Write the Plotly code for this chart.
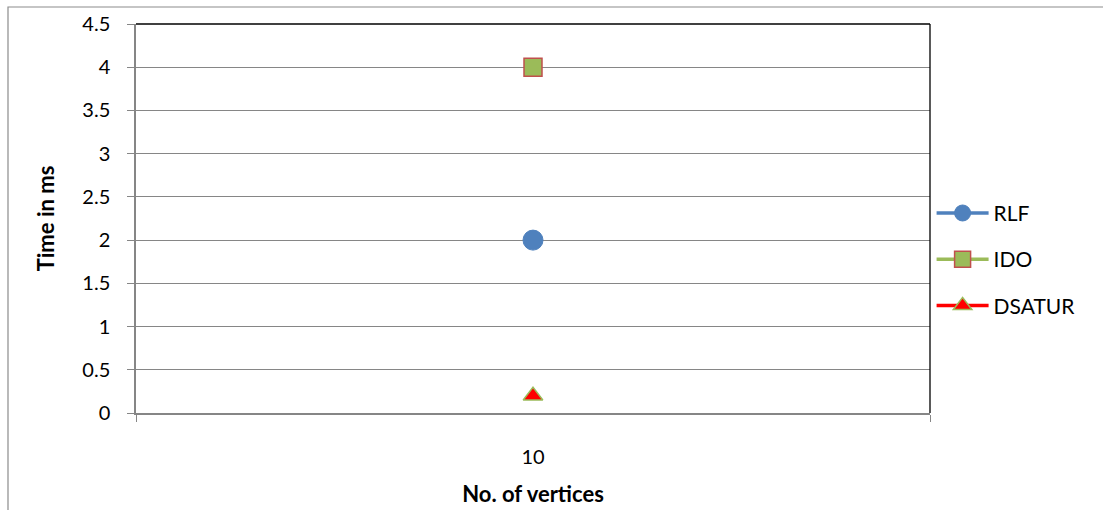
import plotly.graph_objects as go

# Timing results (ms) for graph colouring heuristics
vertices = ["10"]
rlf_ms = [2]
ido_ms = [4]
dsatur_ms = [0.2]

y_ticks = [0, 0.5, 1, 1.5, 2, 2.5, 3, 3.5, 4, 4.5]
y_tick_text = ["0", "0.5", "1", "1.5", "2", "2.5", "3", "3.5", "4", "4.5"]

FONT = "Lato"
TICK_FS = 20
LEG_FS = 21
TITLE_FS = 22

fig = go.Figure()

fig.add_trace(go.Scatter(
    x=vertices, y=rlf_ms, name="RLF", mode="lines+markers",
    line=dict(color="#4F81BD", width=3.5),
    marker=dict(symbol="circle", size=20, color="#4F81BD",
                line=dict(color="#4F81BD", width=1)),
    legendgroup="a",
))
fig.add_trace(go.Scatter(
    x=vertices, y=ido_ms, name="IDO", mode="lines+markers",
    line=dict(color="#9BBB59", width=3.5),
    marker=dict(symbol="square", size=18, color="#9BBB59",
                line=dict(color="#C0504D", width=1.5)),
    legendgroup="b",
))
fig.add_trace(go.Scatter(
    x=vertices, y=dsatur_ms, name="DSATUR", mode="lines+markers",
    line=dict(color="#FF0000", width=3.5),
    marker=dict(symbol="triangle-up", size=17, color="#FF0000",
                line=dict(color="#9BBB59", width=1.5)),
    legendgroup="c",
))

fig.update_layout(
    width=1103, height=510,
    margin=dict(l=136, r=173, t=24, b=97, autoexpand=False),
    paper_bgcolor="white", plot_bgcolor="white",
    font=dict(family=FONT, size=TICK_FS, color="black"),
    showlegend=True,
    legend=dict(
        x=1.002, xanchor="left", y=0.395, yanchor="middle",
        font=dict(family=FONT, size=LEG_FS, color="black"),
        tracegroupgap=16, itemwidth=52,
        bgcolor="rgba(0,0,0,0)",
    ),
    xaxis=dict(
        type="category", range=[-0.5, 0.5], automargin=False,
        tickson="boundaries", ticks="outside", ticklen=7,
        tickcolor="#868686", tickwidth=1,
        showline=True, linecolor="#868686", linewidth=1.5,
        showgrid=False, zeroline=False,
        ticklabelstandoff=25,
        tickfont=dict(family=FONT, size=TICK_FS),
        title=dict(text="<b>No. of vertices</b>", standoff=20,
                   font=dict(family=FONT, size=TITLE_FS)),
    ),
    yaxis=dict(
        range=[0, 4.5], tickvals=y_ticks, ticktext=y_tick_text,
        automargin=False,
        ticks="outside", ticklen=7, tickcolor="#868686", tickwidth=1,
        showline=True, linecolor="#868686", linewidth=1.5,
        showgrid=True, gridcolor="#868686", gridwidth=1.3,
        zeroline=False,
        ticklabelstandoff=13,
        tickfont=dict(family=FONT, size=TICK_FS),
        title=dict(text="<b>Time in ms</b>", standoff=22,
                   font=dict(family=FONT, size=TITLE_FS)),
    ),
    shapes=[
        # chart frame (partly off-canvas)
        dict(type="rect", xref="paper", yref="paper",
             x0=(8 - 136) / 794, x1=2.0, y0=-1.0, y1=(413 - 7) / 389,
             line=dict(color="#8c8c8c", width=1.2), layer="below"),
        # top and right edges of plot area
        dict(type="line", xref="paper", yref="paper",
             x0=0, x1=1, y0=1, y1=1, line=dict(color="black", width=1.3)),
        dict(type="line", xref="paper", yref="paper",
             x0=1, x1=1, y0=0, y1=1, line=dict(color="black", width=1.3)),
    ],
)

fig.write_html("out.html")
